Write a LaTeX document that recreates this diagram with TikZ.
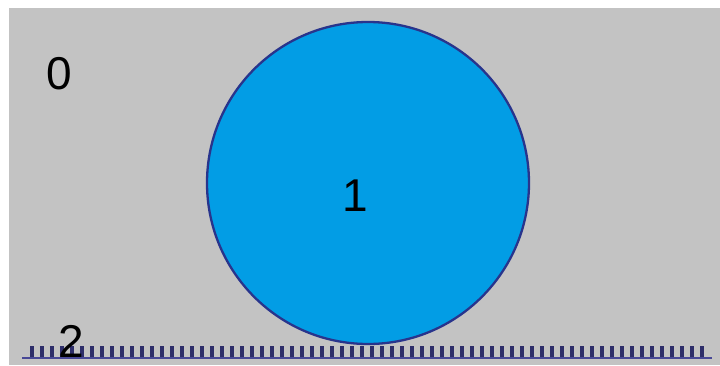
\documentclass[tikz,border=0pt]{standalone}
\usepackage{fontspec}
\setmainfont{Liberation Sans}
\definecolor{bggray}{RGB}{195,195,195}
\definecolor{ballfill}{RGB}{2,157,229}
\definecolor{balledge}{RGB}{40,52,140}
\definecolor{groundline}{RGB}{72,72,150}
\definecolor{tickcol}{RGB}{45,45,105}
\begin{document}
\begin{tikzpicture}[x=1pt,y=-1pt,
  numlabel/.style={inner sep=0pt, font=\fontsize{46}{46}\selectfont, text=black},
  ball/.style={circle, draw=balledge, line width=2.3pt, fill=ballfill, minimum size=322pt, inner sep=0pt},
  tickstyle/.style={draw=tickcol, line width=3.4pt},
  groundstyle/.style={draw=groundline, line width=2pt}]
\useasboundingbox (0,0) rectangle (720,365);
\fill[white] (0,0) rectangle (720,365);
\fill[bggray] (9,8) rectangle (720,365);
\node[ball] (ball) at (368,183) {};
\node[numlabel] (l0) at (59,74) {0};
\node[numlabel] (l1) at (355,196) {1};
\coordinate (gl) at (22,357.5);
\coordinate (gr) at (712,357.5);
\foreach \i in {0,...,67} {
  \draw[tickstyle] ({32+10*\i},346) -- ({32+10*\i},357);
}
\draw[groundstyle] (gl) -- (gr);
\node[numlabel] (l2) at (71,341) {2};
\end{tikzpicture}
\end{document}
